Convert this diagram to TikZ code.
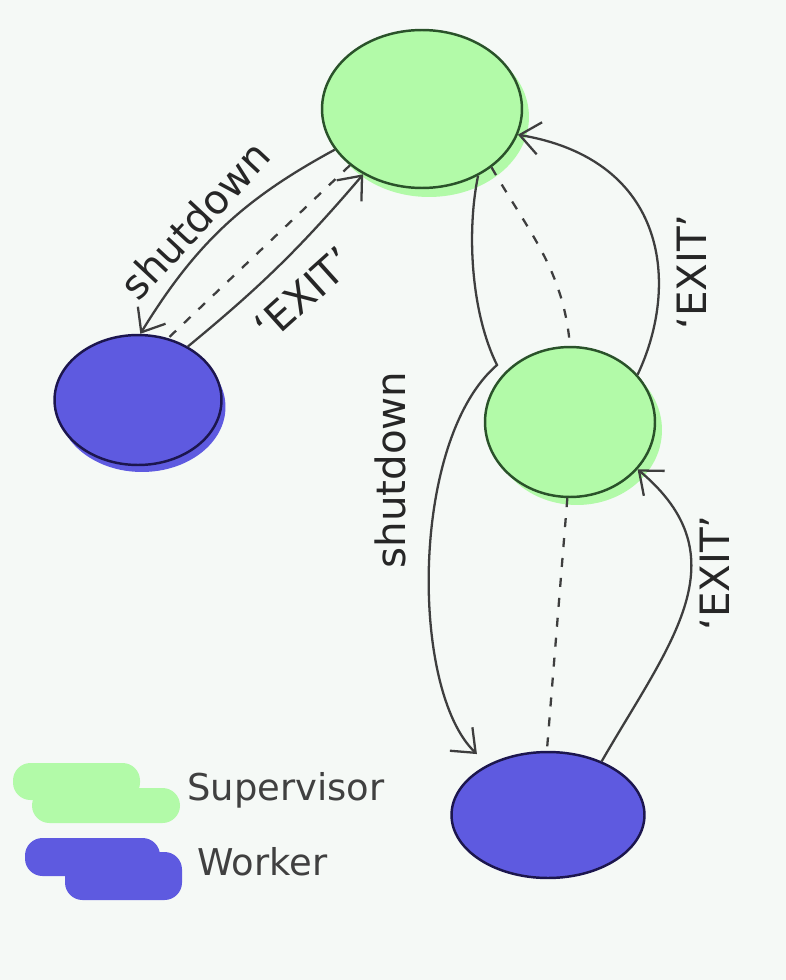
\documentclass[tikz,border=0pt]{standalone}
\usepackage{fontspec}
\setmainfont{DejaVu Sans}
\usetikzlibrary{shapes.geometric,arrows.meta}
\definecolor{bgpaper}{RGB}{245,249,246}
\definecolor{supgreen}{RGB}{178,250,168}
\definecolor{supedge}{RGB}{42,82,42}
\definecolor{wrkblue}{RGB}{94,90,224}
\definecolor{wrkedge}{RGB}{28,22,78}
\definecolor{inkgray}{RGB}{62,62,62}

\begin{document}
\begin{tikzpicture}[x=0.02cm,y=0.02cm,
  supnode/.style={ellipse,draw=supedge,fill=supgreen,line width=1.4pt,inner sep=0pt},
  wrknode/.style={ellipse,draw=wrkedge,fill=wrkblue,line width=1.4pt,inner sep=0pt},
  msgline/.style={draw=inkgray,line width=1.3pt,-{Straight Barb[length=4mm,width=6.5mm]}},
  linkline/.style={draw=inkgray,line width=1.3pt,dash pattern=on 1.8mm off 2.2mm},
  lbl/.style={font=\fontsize{23}{27}\selectfont,text=black!85},
  lgd/.style={font=\fontsize{21}{25}\selectfont,text=black!75,anchor=west}]
% paper
\fill[bgpaper] (0,0) rectangle (786,-980);
\useasboundingbox (0,0) rectangle (786,-980);

% halos under the blobs
\fill[supgreen] (429,-117) ellipse [x radius=2cm,y radius=1.6cm];
\fill[supgreen] (577,-430) ellipse [x radius=1.7cm,y radius=1.5cm];
\fill[wrkblue] (142,-407) ellipse [x radius=1.67cm,y radius=1.3cm];

% supervisors and workers
\node[supnode,minimum width=4cm,minimum height=3.16cm] (sup1) at (422,-109) {};
\node[supnode,minimum width=3.4cm,minimum height=3cm] (sup2) at (570,-422) {};
\node[wrknode,minimum width=3.34cm,minimum height=2.6cm] (wrk1) at (138,-400) {};
\node[wrknode,minimum width=3.86cm,minimum height=2.52cm] (wrk2) at (548,-815) {};

% links
\draw[linkline] (sup1.218) -- (wrk1.64);
\draw[linkline] (sup1.-40) to[out=-60,in=95] (sup2.90);
\draw[linkline] (sup2.268) -- (wrk2.91);

% messages
\draw[msgline] (sup1.205) to[bend right=15] (wrk1.88);
\draw[msgline] (wrk1.47) to[bend right=5] (sup1.228);
\coordinate (kink) at (497,-365);
\draw[msgline,shorten >=3mm] (sup1.310) .. controls (466,-235) and (472,-315) .. (kink)
  .. controls (410,-440) and (410,-690) .. (wrk2.140);
\draw[msgline] (sup2.35) .. controls (680,-285) and (668,-160) .. (sup1.-15);
\draw[msgline] (wrk2.45) to[out=60,in=-40,looseness=1.2] (sup2.-35);

% labels
\node[lbl,rotate=47] (shut1) at (195,-220) {shutdown};
\node[lbl,rotate=42] (exit1) at (304,-294) {`EXIT'};
\node[lbl,rotate=90] (shut2) at (390,-470) {shutdown};
\node[lbl,rotate=90] (exit2) at (692,-272) {`EXIT'};
\node[lbl,rotate=90] (exit3) at (715,-573) {`EXIT'};

% legend
\fill[supgreen,rounded corners=3.5mm] (13,-763) rectangle (140,-800);
\fill[supgreen,rounded corners=3.5mm] (32,-788) rectangle (180,-823);
\fill[wrkblue,rounded corners=3.5mm] (25,-838) rectangle (160,-876);
\fill[wrkblue,rounded corners=3.5mm] (65,-852) rectangle (182,-900);
\node[lgd] (suptxt) at (181,-790) {Supervisor};
\node[lgd] (wrktxt) at (191,-862) {Worker};
\end{tikzpicture}
\end{document}
